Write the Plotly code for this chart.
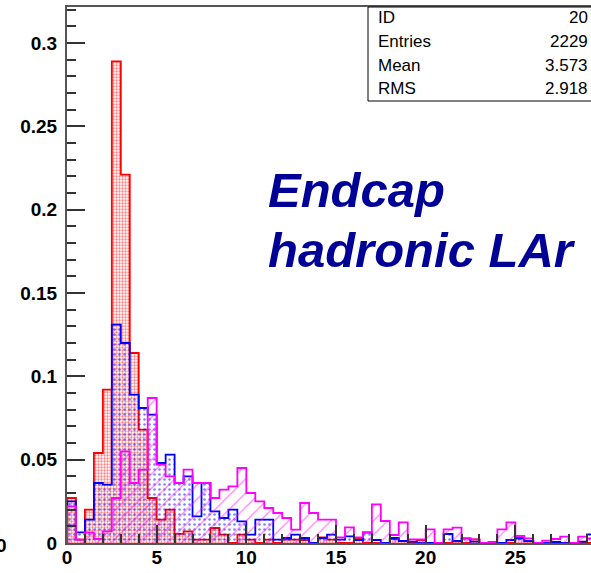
import plotly.graph_objects as go

bin_width = 0.5
n_bins = 59
bin_left = [i * bin_width for i in range(n_bins)]

red_vals = [0.027, 0.002, 0.020, 0.054, 0.092, 0.289, 0.221, 0.114, 0.068, 0.027,
            0.014, 0.020, 0.0055, 0.007, 0.002, 0.002, 0.009, 0.005, 0.0, 0.005,
            0.002, 0.0, 0.002, 0.0, 0.002, 0.002, 0.0018, 0.0, 0.0034, 0.002,
            0.0, 0.0, 0.0024, 0.0, 0.0, 0.0, 0.0024, 0.0012, 0.0, 0.0018,
            0.0, 0.0, 0.0, 0.001, 0.0, 0.0022, 0.0, 0.0, 0.0, 0.0,
            0.0034, 0.001, 0.0, 0.0, 0.0, 0.0, 0.0, 0.0, 0.0]

blue_vals = [0.025, 0.0064, 0.014, 0.036, 0.035, 0.131, 0.120, 0.089, 0.081, 0.077,
             0.048, 0.053, 0.036, 0.040, 0.016, 0.036, 0.019, 0.015, 0.020, 0.013,
             0.005, 0.014, 0.014, 0.002, 0.003, 0.005, 0.003, 0.0, 0.003, 0.005,
             0.002, 0.004, 0.0018, 0.0064, 0.0018, 0.0, 0.003, 0.0012, 0.0008, 0.0,
             0.0, 0.0, 0.0054, 0.0012, 0.0028, 0.0008, 0.0, 0.0, 0.0, 0.0018,
             0.0028, 0.0012, 0.0, 0.0, 0.0006, 0.0, 0.0, 0.0008, 0.0052]

magenta_vals = [0.022, 0.002, 0.0064, 0.0024, 0.007, 0.027, 0.055, 0.036, 0.044, 0.087,
                0.047, 0.040, 0.036, 0.044, 0.036, 0.036, 0.027, 0.032, 0.034, 0.045,
                0.030, 0.025, 0.021, 0.018, 0.015, 0.008, 0.024, 0.018, 0.014, 0.014,
                0.0034, 0.0094, 0.0034, 0.0062, 0.0232, 0.0132, 0.0048, 0.0124, 0.0022, 0.0022,
                0.0082, 0.0, 0.0082, 0.0092, 0.0028, 0.0022, 0.0, 0.0006, 0.0082, 0.0124,
                0.0042, 0.0028, 0.0, 0.0014, 0.0024, 0.0038, 0.0, 0.0038, 0.0028]

x_ticks = [0, 5, 10, 15, 20, 25]
y_ticks = [0, 0.05, 0.1, 0.15, 0.2, 0.25, 0.3]
y_tick_labels = ["0", "0.05", "0.1", "0.15", "0.2", "0.25", "0.3"]

stats_labels = ["ID", "Entries", "Mean", "RMS"]
stats_values = ["20", "2229", "3.573", "2.918"]

title_lines = ["Endcap", "hadronic LAr"]


def step_trace(vals, color, shape, size, solidity, width):
    xs = [bin_left[0]] + bin_left + [bin_left[-1] + bin_width]
    ys = [0] + list(vals) + [0]
    return go.Scatter(
        x=xs, y=ys, mode="lines", line=dict(color=color, width=width, shape="hv"),
        fill="tozeroy", fillcolor="rgba(0,0,0,0)",
        fillpattern=dict(shape=shape, fgcolor=color, bgcolor="rgba(0,0,0,0)",
                         size=size, solidity=solidity, fillmode="overlay"),
        hoverinfo="skip", showlegend=False,
    )


fig = go.Figure()
fig.add_trace(step_trace(red_vals, "#ff0000", ".", 3, 0.45, 1.8))
fig.add_trace(step_trace(blue_vals, "#0000ff", ".", 5, 0.2, 1.8))
fig.add_trace(step_trace(magenta_vals, "#ff00ff", "/", 10, 0.12, 1.8))

tick_font = dict(family="Liberation Sans, Arial", size=19, color="black")

fig.update_layout(
    width=591, height=573,
    margin=dict(l=67, r=0, t=7, b=30),
    paper_bgcolor="white", plot_bgcolor="white",
    font=dict(family="Liberation Sans, Arial"),
    xaxis=dict(
        range=[0, 29.22], tickvals=x_ticks,
        ticktext=["<b>%s</b>" % v for v in x_ticks],
        ticks="inside", ticklen=18, tickwidth=1.5, tickcolor="#333",
        minor=dict(dtick=1, ticklen=9, ticks="inside", tickcolor="#333", tickwidth=1.5),
        showline=True, linecolor="#555", linewidth=2, mirror=True,
        showgrid=False, zeroline=False,
        tickfont=tick_font, ticklabelstandoff=-4,
    ),
    yaxis=dict(
        range=[0, 0.3216], tickvals=y_ticks,
        ticktext=["<b>%s</b>" % t for t in y_tick_labels],
        ticks="inside", ticklen=18, tickwidth=1.5, tickcolor="#333",
        minor=dict(dtick=0.01, ticklen=9, ticks="inside", tickcolor="#333", tickwidth=1.5),
        showline=True, linecolor="#555", linewidth=2,
        showgrid=False, zeroline=False,
        tickfont=tick_font, ticklabelstandoff=4,
    ),
)

# pixel helpers (paper coordinates)
pw = 591 - 67
ph = 573 - 7 - 30
def px_x(p):
    return (p - 67) / pw
def px_y(p):
    return 1 - (p - 7) / ph

# stats box
fig.add_shape(type="rect", xref="paper", yref="paper",
              x0=px_x(368), x1=px_x(600), y0=px_y(101), y1=px_y(7),
              line=dict(color="black", width=1), fillcolor="white", layer="above")
row_y = [17, 41, 65, 88]
for lab, val, ry in zip(stats_labels, stats_values, row_y):
    fig.add_annotation(xref="paper", yref="paper", x=px_x(376), y=px_y(ry),
                       text=lab, showarrow=False, xanchor="left", yanchor="middle",
                       font=dict(family="Liberation Sans, Arial", size=17, color="black"))
    fig.add_annotation(xref="paper", yref="paper", x=px_x(590), y=px_y(ry),
                       text=val, showarrow=False, xanchor="right", yanchor="middle",
                       font=dict(family="Liberation Sans, Arial", size=17, color="black"))

# title text
title_font = dict(family="Liberation Sans, Arial", size=49, color="#000096")
fig.add_annotation(xref="paper", yref="paper", x=px_x(266), y=px_y(190),
                   text="<b><i>%s</i></b>" % title_lines[0], showarrow=False,
                   xanchor="left", yanchor="middle", font=title_font)
fig.add_annotation(xref="paper", yref="paper", x=px_x(266), y=px_y(250),
                   text="<b><i>%s</i></b>" % title_lines[1], showarrow=False,
                   xanchor="left", yanchor="middle", font=title_font)

# clipped label fragment at the far left
fig.add_annotation(xref="paper", yref="paper", x=px_x(9), y=px_y(545),
                   text="<b>0</b>", showarrow=False, xanchor="right", yanchor="middle",
                   font=tick_font)

fig.write_html("out.html", config={"displayModeBar": False},
               post_script="document.body.style.margin='0';document.body.style.overflow='hidden';")
